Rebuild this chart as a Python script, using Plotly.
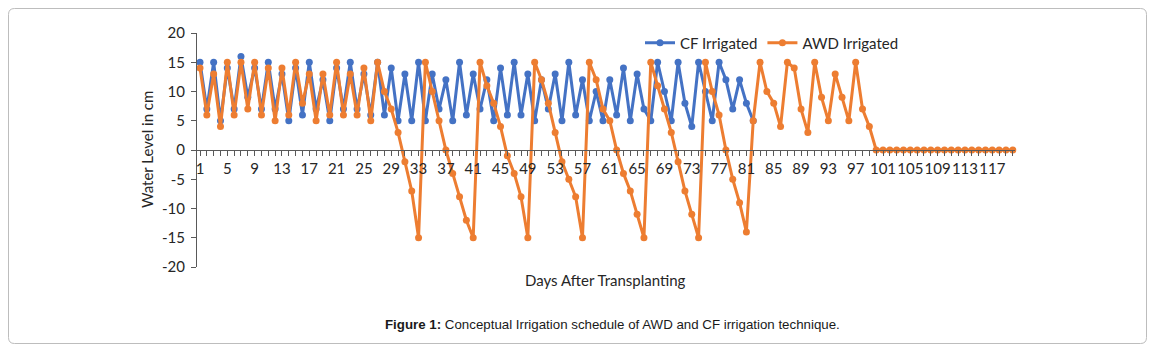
import plotly.graph_objects as go

days = list(range(1, 121))

cf_irrigated = [15, 7, 15, 5, 14, 7, 16, 9, 14, 7,
                15, 7, 13, 5, 14, 6, 15, 7, 12, 5,
                14, 7, 15, 7, 13, 6, 15, 6, 14, 5,
                13, 5, 15, 5, 13, 7, 12, 5, 15, 6,
                13, 7, 12, 5, 14, 6, 15, 6, 13, 5,
                12, 7, 13, 5, 15, 6, 12, 5, 10, 5,
                12, 6, 14, 5, 13, 7, 5, 15, 10, 5,
                15, 8, 4, 15, 10, 5, 15, 12, 7, 12,
                8, 5]

awd_irrigated = [14, 6, 13, 4, 15, 6, 15, 7, 15, 6,
                 14, 5, 14, 6, 15, 8, 13, 5, 13, 6,
                 15, 6, 13, 6, 14, 5, 15, 10, 7, 3,
                 -2, -7, -15, 15, 10, 5, 0, -4, -8, -12,
                 -15, 15, 11, 8, 4, -1, -4, -8, -15, 15,
                 12, 8, 3, -2, -5, -8, -15, 15, 12, 7,
                 5, 0, -4, -7, -11, -15, 15, 11, 7, 3,
                 -2, -7, -11, -15, 15, 10, 6, 0, -5, -9,
                 -14, 5, 15, 10, 8, 4, 15, 14, 7, 3,
                 15, 9, 5, 13, 9, 5, 15, 7, 4, 0,
                 0, 0, 0, 0, 0, 0, 0, 0, 0, 0,
                 0, 0, 0, 0, 0, 0, 0, 0, 0, 0]

x_tick_vals = list(range(1, 118, 4))
x_tick_text = [str(v) for v in x_tick_vals]
y_tick_vals = [20, 15, 10, 5, 0, -5, -10, -15, -20]
y_tick_text = [str(v) for v in y_tick_vals]

BLUE = "#4472C4"
ORANGE = "#ED7D31"
TXT = "#262626"
AXIS = "#595959"
FONT = "Lato"

# the page body has an 8px margin, so the figure starts at page (8, 8)
OFF = 8
PAGE_W, PAGE_H = 1155, 352
W, H = PAGE_W - OFF, PAGE_H - OFF
# plot area in page pixels: x 197..1015, y 33..267
PL, PR, PT, PB = 197, 1015, 33, 267
L, T = PL - OFF, PT - OFF
R, B = W - (PR - OFF), H - (PB - OFF)
PW, PH = PR - PL, PB - PT
PX_PER_DAY = 6.83


def px2paper(px, py):
    """page pixel -> paper coordinates"""
    return (px - PL) / PW, (PB - py) / PH


fig = go.Figure()
fig.add_trace(go.Scatter(
    x=days[:len(cf_irrigated)], y=cf_irrigated, name="CF Irrigated",
    mode="lines+markers", line=dict(color=BLUE, width=3),
    marker=dict(color=BLUE, size=7), cliponaxis=False))
fig.add_trace(go.Scatter(
    x=days, y=awd_irrigated, name="AWD Irrigated",
    mode="lines+markers", line=dict(color=ORANGE, width=3),
    marker=dict(color=ORANGE, size=7), cliponaxis=False))

x_start = 1 - (200 - PL) / PX_PER_DAY
fig.update_layout(
    width=W, height=H,
    margin=dict(l=L, r=R, t=T, b=B, pad=0),
    paper_bgcolor="white", plot_bgcolor="white",
    font=dict(family=FONT, size=15, color=TXT),
    showlegend=True,
    legend=dict(orientation="h", x=px2paper(640, 0)[0], y=px2paper(0, 43)[1],
                xanchor="left", yanchor="middle", bgcolor="rgba(0,0,0,0)",
                font=dict(family=FONT, size=15, color=TXT), itemwidth=30,
                tracegroupgap=0),
    xaxis=dict(range=[x_start, x_start + PW / PX_PER_DAY],
               anchor="free", position=0.5,
               showgrid=False, zeroline=False,
               showline=True, linecolor=AXIS, linewidth=1,
               tickmode="array", tickvals=x_tick_vals, ticktext=x_tick_text,
               tickangle=0,
               ticks="outside", ticklen=5, tickcolor=AXIS,
               tickfont=dict(family=FONT, size=15, color=TXT),
               minor=dict(tick0=1, dtick=1, ticks="outside", ticklen=5,
                          tickcolor=AXIS, showgrid=False)),
    yaxis=dict(range=[-20, 20], showgrid=False, zeroline=False,
               showline=True, linecolor=AXIS, linewidth=1,
               tickmode="array", tickvals=y_tick_vals, ticktext=y_tick_text,
               ticks="outside", ticklen=5, tickcolor=AXIS,
               ticklabelstandoff=3,
               tickfont=dict(family=FONT, size=15, color=TXT)),
)

# axis titles
ax, ay = px2paper(605, 280)
fig.add_annotation(text="Days After Transplanting", x=ax, y=ay, xref="paper", yref="paper",
                   showarrow=False, font=dict(family=FONT, size=15, color=TXT),
                   xanchor="center", yanchor="middle")
ax, ay = px2paper(147, 150)
fig.add_annotation(text="Water Level in cm", x=ax, y=ay, xref="paper", yref="paper",
                   showarrow=False, textangle=-90, font=dict(family=FONT, size=15, color=TXT),
                   xanchor="center", yanchor="middle")

# caption
ax, ay = px2paper(612, 324)
fig.add_annotation(text="<b>Figure 1:</b> Conceptual Irrigation schedule of AWD and CF irrigation technique.",
                   x=ax, y=ay, xref="paper", yref="paper", showarrow=False,
                   font=dict(family="Liberation Sans", size=13.3, color="#1a1a1a"),
                   xanchor="center", yanchor="middle")

# rounded border
x0, y0 = px2paper(8.5, 8.5)
x1, y1 = px2paper(1146.5, 343.5)
rx, ry = 6 / PW, 6 / PH
path = (f"M {x0+rx},{y0} L {x1-rx},{y0} Q {x1},{y0} {x1},{y0-ry} "
        f"L {x1},{y1+ry} Q {x1},{y1} {x1-rx},{y1} L {x0+rx},{y1} "
        f"Q {x0},{y1} {x0},{y1+ry} L {x0},{y0-ry} Q {x0},{y0} {x0+rx},{y0} Z")
fig.add_shape(type="path", path=path, xref="paper", yref="paper",
              line=dict(color="#bdbdbd", width=1), layer="below")

fig.write_html("out.html")
